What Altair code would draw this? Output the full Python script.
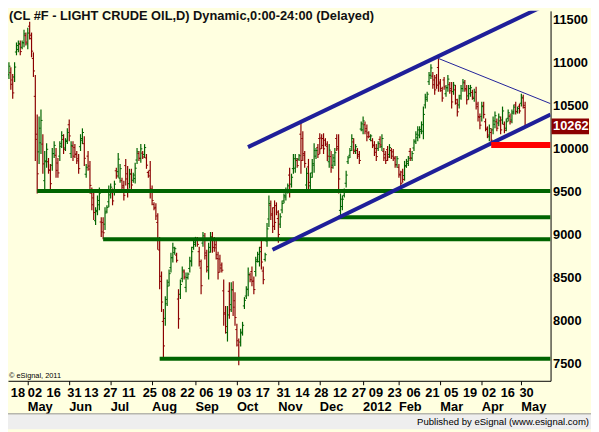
import altair as alt
import pandas as pd

# ---------------- data (daily OHLC, price x100) ----------------
highs = [
    11007, 10949, 10869, 11007, 11236, 11259, 11259, 11259, 11385, 11351,
    11408, 11477, 11351, 11121, 10858, 10399, 10376, 10456, 10170, 9975,
    10066, 9894, 9825, 10009, 10089, 10009, 9894, 10089, 10204, 10170,
    10124, 10238, 10342, 10089, 10089, 10055, 9975, 9940, 10170, 10238,
    10147, 9825, 9975, 9860, 9550, 9516, 9321, 9458, 9550, 9206,
    9206, 9321, 9344, 9573, 9596, 9539, 9630, 9779, 9952, 9825,
    9665, 9630, 9883, 9802, 9768, 9768, 9722, 9837, 10009, 9975,
    10055, 9975, 10055, 9940, 9745, 9860, 9573, 9378, 9367, 9252,
    8977, 8575, 8139, 8288, 8483, 8598, 8793, 8908, 8862, 8793,
    8369, 8483, 8633, 8598, 8564, 8564, 8747, 8862, 8942, 8977,
    8977, 8862, 8713, 9034, 9023, 8827, 8908, 9034, 9034, 8977,
    8942, 8805, 8770, 8678, 8483, 8174, 8174, 8449, 8449, 8461,
    8334, 7967, 7795, 7910, 7990, 8277, 8403, 8621, 8564, 8633,
    8518, 8747, 8805, 8862, 8942, 8633, 8793, 9137, 9458, 9401,
    9321, 9401, 9378, 9286, 9252, 9401, 9481, 9550, 9596, 9779,
    9711, 9940, 9940, 9894, 9940, 10319, 10204, 9975, 9779, 9883,
    9722, 9883, 10066, 10009, 10055, 10181, 10170, 10181, 10124, 10089,
    10055, 9975, 9940, 10009, 10170, 10170, 9481, 9458, 9539, 9745,
    9917, 10009, 10170, 10124, 10055, 10009, 9975, 10319, 10376, 10319,
    10284, 10204, 10170, 10124, 10089, 10055, 10089, 10147, 10170, 10009,
    9975, 10032, 10055, 10009, 9997, 9917, 9917, 9825, 9745, 9768,
    9860, 9883, 9917, 10009, 9975, 10112, 10204, 10261, 10261, 10319,
    10491, 10640, 10663, 10892, 10984, 10892, 10858, 10869, 11050, 10812,
    10720, 10835, 10743, 10858, 10777, 10777, 10777, 10743, 10582, 10628,
    10743, 10812, 10800, 10743, 10743, 10743, 10686, 10697, 10720, 10548,
    10410, 10548, 10548, 10353, 10261, 10284, 10238, 10376, 10433, 10353,
    10410, 10376, 10491, 10319, 10353, 10456, 10410, 10456, 10514, 10548,
    10491, 10525, 10640, 10628, 10548,
]
lows = [
    10812, 10686, 10582, 10777, 11087, 11121, 11087, 11156, 11179, 11202,
    11156, 11271, 11064, 10835, 9860, 9481, 9825, 9940, 9711, 9516,
    9779, 9711, 9516, 9745, 9894, 9665, 9665, 9860, 10009, 9940,
    9975, 10055, 10089, 9894, 9860, 9894, 9825, 9711, 9975, 10055,
    9802, 9665, 9745, 9481, 9286, 9172, 9115, 9229, 9286, 8977,
    8950, 9057, 9252, 9321, 9424, 9344, 9458, 9653, 9665, 9607,
    9516, 9401, 9573, 9436, 9539, 9516, 9607, 9596, 9825, 9860,
    9837, 9883, 9894, 9768, 9665, 9424, 9344, 9286, 9172, 8827,
    8369, 8105, 7560, 7944, 8174, 8403, 8564, 8678, 8770, 8678,
    7910, 8254, 8449, 8483, 8334, 8483, 8564, 8633, 8827, 8862,
    8862, 8633, 8311, 8862, 8713, 8564, 8483, 8793, 8793, 8805,
    8713, 8483, 8564, 8564, 7944, 7853, 7761, 8025, 8105, 8059,
    7944, 7704, 7486, 7704, 7830, 8139, 8254, 8288, 8449, 8403,
    8311, 8518, 8678, 8633, 8598, 8426, 8690, 8862, 9091, 9172,
    9023, 9057, 9229, 8908, 9080, 9252, 9367, 9401, 9481, 9436,
    9550, 9711, 9722, 9779, 9860, 9711, 9860, 9779, 9516, 9516,
    9516, 9665, 9722, 9883, 9894, 9940, 9997, 9940, 10032, 9860,
    9779, 9722, 9768, 9802, 9975, 9481, 9205, 9286, 9436, 9550,
    9825, 9894, 9975, 9940, 9940, 9883, 9825, 10204, 10170, 10170,
    10089, 10124, 10089, 10009, 9917, 9860, 9975, 10009, 9975, 9860,
    9825, 9860, 9894, 9883, 9860, 9779, 9779, 9665, 9550, 9607,
    9630, 9779, 9802, 9860, 9860, 9975, 10055, 10089, 10124, 10170,
    10112, 10468, 10548, 10743, 10812, 10697, 10628, 10697, 10663, 10663,
    10548, 10686, 10605, 10663, 10640, 10468, 10628, 10514, 10376, 10468,
    10571, 10663, 10663, 10514, 10571, 10605, 10571, 10548, 10456, 10319,
    10227, 10319, 10353, 10204, 10124, 10089, 10045, 10170, 10238, 10204,
    10261, 10170, 10284, 10181, 10204, 10319, 10284, 10296, 10399, 10399,
    10410, 10410, 10491, 10468, 10250,
]
opens = [
    10860, 10885, 10800, 10835, 11125, 11155, 11215, 11180, 11230, 11315,
    11220, 11425, 11280, 11050, 10610, 10170, 9965, 10070, 10055, 9630,
    9850, 9850, 9750, 9810, 9945, 9925, 9835, 9915, 10060, 10110,
    10010, 10100, 10280, 9945, 10030, 10015, 9940, 9885, 10025, 10100,
    10060, 9705, 9915, 9765, 9485, 9430, 9165, 9285, 9350, 9150,
    9145, 9125, 9275, 9385, 9465, 9490, 9500, 9745, 9735, 9660,
    9630, 9575, 9805, 9710, 9595, 9705, 9635, 9655, 9870, 9945,
    9890, 9950, 9935, 9895, 9725, 9750, 9515, 9355, 9320, 9145,
    8825, 8460, 7995, 8030, 8250, 8450, 8620, 8735, 8795, 8765,
    8255, 8310, 8495, 8570, 8390, 8505, 8610, 8690, 8855, 8890,
    8950, 8805, 8615, 8905, 8945, 8760, 8590, 8855, 8975, 8935,
    8885, 8725, 8720, 8650, 8350, 8095, 7865, 8345, 8190, 8360,
    8235, 7900, 7720, 7755, 7870, 8175, 8290, 8370, 8535, 8575,
    8465, 8575, 8710, 8690, 8855, 8580, 8715, 8930, 9185, 9345,
    9245, 9315, 9340, 9190, 9125, 9290, 9395, 9440, 9510, 9695,
    9590, 9770, 9775, 9865, 9880, 10170, 10120, 9925, 9580, 9790,
    9570, 9720, 9810, 9915, 10015, 10120, 10125, 10120, 10100, 10030,
    9850, 9910, 9810, 9855, 10120, 10000, 9285, 9330, 9460, 9600,
    9850, 9925, 10025, 10080, 9970, 9980, 9935, 10230, 10220, 10280,
    10235, 10185, 10110, 10095, 10045, 10005, 10005, 10110, 10025, 9970,
    9935, 9990, 9935, 9980, 9965, 9885, 9815, 9785, 9695, 9730,
    9690, 9805, 9830, 9970, 9890, 10010, 10090, 10130, 10160, 10205,
    10205, 10510, 10575, 10780, 10855, 10845, 10800, 10825, 10945, 10775,
    10675, 10800, 10640, 10710, 10745, 10700, 10665, 10685, 10530, 10510,
    10615, 10700, 10765, 10685, 10615, 10640, 10655, 10585, 10655, 10490,
    10365, 10375, 10500, 10315, 10225, 10140, 10190, 10220, 10285, 10315,
    10300, 10325, 10335, 10285, 10240, 10355, 10380, 10335, 10430, 10510,
    10430, 10495, 10530, 10590, 10480,
]
closes = [
    10960, 10750, 10650, 10950, 11200, 11225, 11130, 11235, 11335, 11240,
    11345, 11320, 11135, 10905, 10110, 9710, 10240, 10330, 9825, 9860,
    9995, 9755, 9595, 9945, 10040, 9750, 9720, 10030, 10155, 9995,
    10085, 10190, 10150, 10040, 9915, 9935, 9860, 9770, 10120, 10190,
    9890, 9785, 9800, 9575, 9350, 9260, 9270, 9400, 9485, 9035,
    9025, 9255, 9320, 9510, 9555, 9395, 9590, 9685, 9880, 9770,
    9555, 9460, 9650, 9530, 9710, 9580, 9695, 9775, 9965, 9890,
    10000, 9905, 10015, 9810, 9685, 9535, 9400, 9310, 9220, 8935,
    8520, 8220, 7710, 8200, 8405, 8550, 8735, 8850, 8840, 8705,
    8025, 8425, 8590, 8510, 8505, 8545, 8700, 8805, 8915, 8950,
    8890, 8690, 8410, 8990, 8790, 8630, 8800, 8975, 8855, 8850,
    8770, 8565, 8615, 8590, 8080, 7935, 8070, 8130, 8365, 8160,
    8040, 7770, 7565, 7860, 7950, 8240, 8365, 8540, 8480, 8460,
    8365, 8690, 8775, 8805, 8685, 8480, 8770, 9070, 9365, 9230,
    9100, 9145, 9265, 9005, 9210, 9365, 9455, 9515, 9570, 9520,
    9670, 9885, 9885, 9805, 9920, 9865, 9945, 9830, 9715, 9610,
    9670, 9830, 9980, 9980, 9935, 10000, 10040, 10000, 10055, 9915,
    9985, 9785, 9895, 9955, 10025, 9650, 9415, 9415, 9515, 9695,
    9895, 9980, 10120, 9985, 10025, 9915, 9865, 10290, 10325, 10205,
    10140, 10145, 10150, 10035, 9960, 9910, 10060, 10045, 10120, 9895,
    9865, 9905, 10015, 9915, 9895, 9815, 9885, 9705, 9600, 9645,
    9800, 9855, 9890, 9895, 9945, 10080, 10170, 10220, 10225, 10280,
    10400, 10600, 10635, 10855, 10940, 10745, 10685, 10740, 10755, 10700,
    10590, 10720, 10710, 10810, 10675, 10545, 10740, 10570, 10430, 10590,
    10700, 10775, 10700, 10570, 10700, 10710, 10600, 10660, 10520, 10375,
    10275, 10490, 10400, 10240, 10160, 10235, 10100, 10325, 10385, 10240,
    10370, 10220, 10440, 10215, 10315, 10420, 10315, 10415, 10485, 10435,
    10470, 10440, 10600, 10505, 10262,
]

# x-axis labels (bar index of each labelled day / month start)
day_idx = [1, 10, 20, 31, 40, 50, 60, 71, 81, 91, 101, 111, 121, 131, 142,
           152, 162, 172, 182, 191, 201, 211, 221, 231, 241, 251, 261, 271]
day_lbl = ["18", "02", "16", "31", "13", "27", "11", "25", "08", "22", "06",
           "19", "03", "17", "31", "14", "28", "12", "27", "09", "23", "06",
           "21", "05", "19", "02", "16", "30"]
month_idx = [10, 32, 54, 76, 99, 121, 143, 165, 188, 207, 229, 251, 272]
month_lbl = ["May", "Jun", "Jul", "Aug", "Sep", "Oct", "Nov", "Dec", "2012",
             "Feb", "Mar", "Apr", "May"]
y_ticks = [7500, 8000, 8500, 9000, 9500, 10000, 10500, 11000, 11500]

# drawn studies
support_level = [9510, 9205, 8950, 7560]
support_start = [15, 175, 50, 80]
red_level = [10045]
red_start = [256]
chan_x1 = [126.9, 139.9, 228]
chan_y1 = [10020, 8827, 11050]
chan_x2 = [285, 287.5, 287.5]
chan_y2 = [11672, 10399, 10525]
chan_w = ["thick", "thick", "thin"]
last_price = 10262
title_txt = "(CL #F - LIGHT CRUDE OIL,D) Dynamic,0:00-24:00 (Delayed)"

# ---------------- build ----------------
n = min(len(highs), len(lows), len(opens), len(closes))
bars = pd.DataFrame({"i": list(range(n)), "high": highs[:n], "low": lows[:n],
                     "open": opens[:n], "close": closes[:n]})
bars["dir"] = ["up" if c >= o else "down" for o, c in zip(bars["open"], bars["close"])]

X_MIN, X_MAX = -0.5, 287.5
Y_MIN, Y_MAX = 7305, 11603
FONT = "Liberation Sans"
GREEN = "#006400"
RED = "#8B0000"
NAVY = "#1F1F99"
BG = "#FFFFE0"

xs = alt.Scale(domain=[X_MIN, X_MAX], nice=False, zero=False)
ys = alt.Scale(domain=[Y_MIN, Y_MAX], nice=False, zero=False)
color = alt.Color("dir:N", scale=alt.Scale(domain=["up", "down"], range=[GREEN, RED]), legend=None)

x_axis = alt.Axis(values=month_idx, labels=False, tickSize=4, tickColor="black",
                  domainColor="black", title=None, grid=False)
y_axis = alt.Axis(orient="right", values=y_ticks, format="d", title=None, grid=False,
                  tickSize=0, labelPadding=2, labelFont=FONT, labelFontSize=13,
                  labelFontWeight="bold", labelColor="black", domainColor="black",
                  labelAlign="left", labelBaseline="middle", labelFlush=False,
                  labelOverlap=False)


def X(field):
    return alt.X(field, scale=xs, axis=x_axis)


def Y(field):
    return alt.Y(field, scale=ys, axis=y_axis)


hl = alt.Chart(bars).mark_rule(strokeWidth=1.2).encode(
    x=X("i:Q"), y=Y("low:Q"), y2="high:Q", color=color)
op = alt.Chart(bars).mark_rule(strokeWidth=1, xOffset=-1.6, x2Offset=0).encode(
    x=X("i:Q"), x2="i:Q", y=Y("open:Q"), color=color)
cl = alt.Chart(bars).mark_rule(strokeWidth=1, xOffset=0, x2Offset=1.6).encode(
    x=X("i:Q"), x2="i:Q", y=Y("close:Q"), color=color)

sup = pd.DataFrame({"level": support_level, "start": support_start, "end": [X_MAX] * len(support_level)})
sup_l = alt.Chart(sup).mark_rule(strokeWidth=4, color=GREEN, clip=True).encode(
    x=X("start:Q"), x2="end:Q", y=Y("level:Q"))

red = pd.DataFrame({"level": red_level, "start": red_start, "end": [X_MAX]})
red_l = alt.Chart(red).mark_rule(strokeWidth=6, color="#FF0000", clip=True).encode(
    x=X("start:Q"), x2="end:Q", y=Y("level:Q"))

ch = pd.DataFrame({"x1": chan_x1, "y1": chan_y1, "x2": chan_x2, "y2": chan_y2, "w": chan_w})
ch_l = alt.Chart(ch).mark_rule(color=NAVY, clip=True).encode(
    x=X("x1:Q"), x2="x2:Q", y=Y("y1:Q"), y2="y2:Q",
    strokeWidth=alt.StrokeWidth("w:N", scale=alt.Scale(domain=["thick", "thin"], range=[4, 1]), legend=None))

days = pd.DataFrame({"i": day_idx, "t": day_lbl})
day_t = alt.Chart(days).mark_text(align="left", baseline="alphabetic", font=FONT, fontSize=13,
                                  fontWeight="bold", color="black").encode(
    x=X("i:Q"), y=alt.value(391), text="t:N")
months = pd.DataFrame({"i": month_idx, "t": month_lbl})
mon_t = alt.Chart(months).mark_text(align="left", baseline="alphabetic", font=FONT, fontSize=13,
                                    fontWeight="bold", color="black").encode(
    x=X("i:Q"), y=alt.value(405.5), text="t:N")

lp = pd.DataFrame({"p": [last_price], "t": [str(last_price)]})
box = alt.Chart(lp).mark_rule(strokeWidth=16, color=RED).encode(
    x=alt.value(551), x2=alt.value(589), y=Y("p:Q"))
box_t = alt.Chart(lp).mark_text(align="left", baseline="middle", font=FONT, fontSize=13,
                                fontWeight="bold", color="white").encode(
    x=alt.value(552.5), y=Y("p:Q"), text="t:N")

one = pd.DataFrame({"a": [0]})
status = alt.Chart(one).mark_rect(color="#EEEEEE").encode(
    x=alt.value(0), x2=alt.value(591), y=alt.value(409), y2=alt.value(424))
status_line = alt.Chart(one).mark_rule(color="#909090", strokeWidth=1).encode(
    x=alt.value(0), x2=alt.value(591), y=alt.value(408.5))
pub = alt.Chart(pd.DataFrame({"t": ["Published by eSignal (www.esignal.com)"]})).mark_text(
    align="right", baseline="alphabetic", font=FONT, fontSize=9.7, color="black").encode(
    x=alt.value(589), y=alt.value(420), text="t:N")
ttl = alt.Chart(pd.DataFrame({"t": [title_txt]})).mark_text(
    align="left", baseline="alphabetic", font=FONT, fontSize=13, fontWeight="bold", color="#111111").encode(
    x=alt.value(1), y=alt.value(9), text="t:N")
cpy = alt.Chart(pd.DataFrame({"t": ["\u00a9 eSignal, 2011"]})).mark_text(
    align="left", baseline="alphabetic", font=FONT, fontSize=7.5, color="black").encode(
    x=alt.value(1), y=alt.value(372), text="t:N")

chart = alt.layer(
    hl, op, cl, sup_l, ch_l, red_l, box, box_t, day_t, mon_t,
    status, status_line, pub, ttl, cpy,
).properties(
    width=550, height=375,
    autosize=alt.AutoSizeParams(type="none"),
    padding={"left": 0, "top": 0, "right": 41, "bottom": 49},
    background=BG,
).configure_view(stroke=None)

chart.save("out.html", embed_options={"renderer": "svg", "actions": False})
